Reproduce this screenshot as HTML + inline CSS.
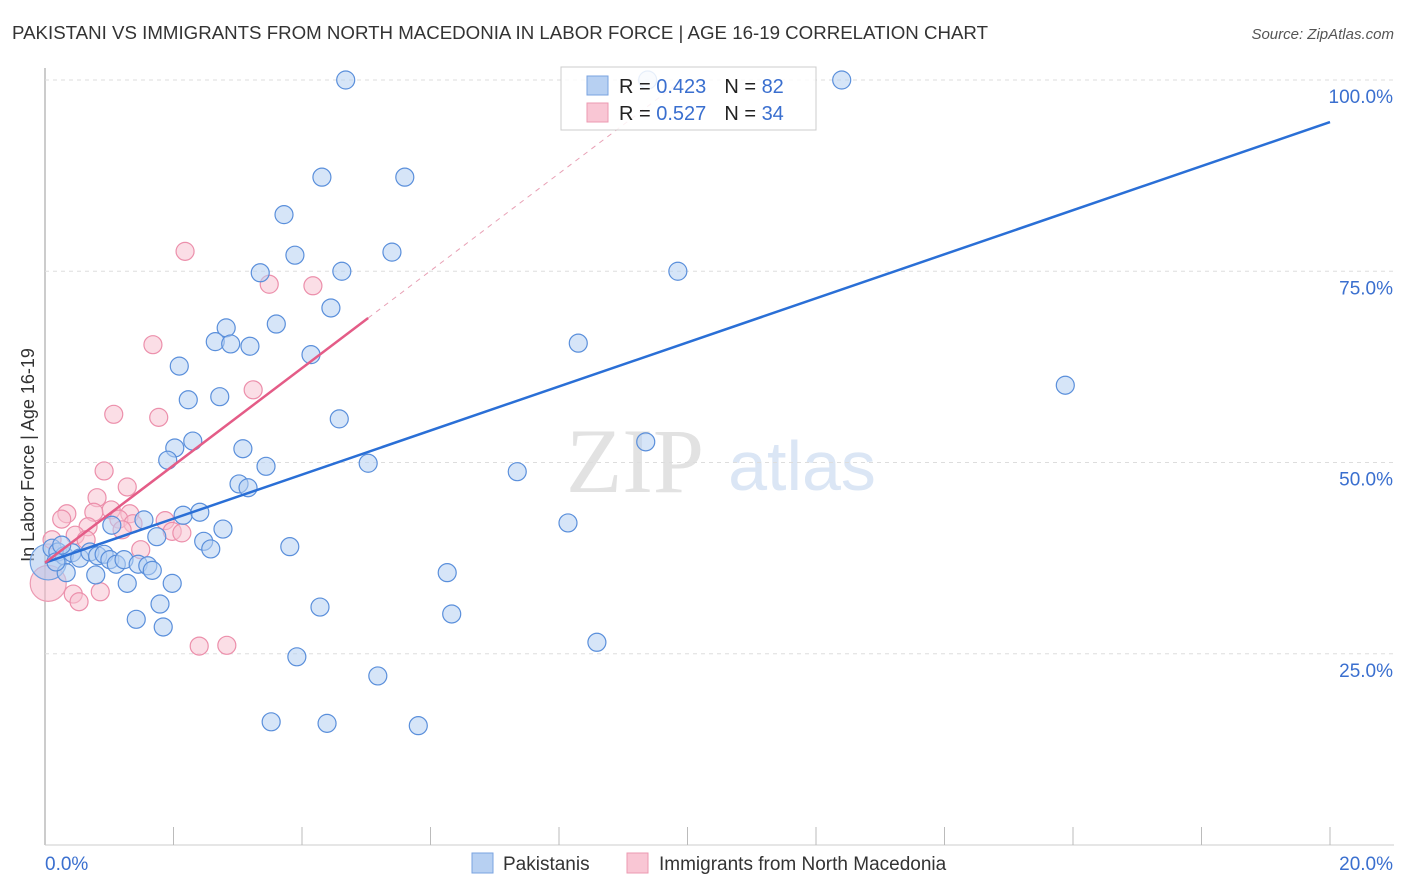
<!DOCTYPE html>
<html><head><meta charset="utf-8"><style>
body{margin:0;background:#fff;font-family:"Liberation Sans",sans-serif;}
svg{display:block}
</style></head><body>
<svg id="chart" width="1406" height="892">
<text x="12" y="39" font-size="18" fill="#333" textLength="976" lengthAdjust="spacingAndGlyphs">PAKISTANI VS IMMIGRANTS FROM NORTH MACEDONIA IN LABOR FORCE | AGE 16-19 CORRELATION CHART</text>
<text x="1394" y="39" font-size="15" fill="#555" font-style="italic" text-anchor="end">Source: ZipAtlas.com</text>
<text x="635" y="492" font-size="92" fill="#e2e2e2" font-family="Liberation Serif,serif" text-anchor="middle">ZIP</text>
<text x="802" y="490" font-size="70" fill="#dbe6f5" text-anchor="middle">atlas</text>
<text transform="translate(34,455) rotate(-90)" font-size="18" fill="#333" text-anchor="middle">In Labor Force | Age 16-19</text>
<g id="grid"></g><g id="pts"></g><g id="lines"></g>
<g>
<rect x="561" y="67" width="255" height="63" fill="#fff" fill-opacity="0.85" stroke="#ccc"/>
<rect x="587" y="76" width="21" height="19" fill="#b7d0f2" stroke="#7aa3e0"/>
<rect x="587" y="103" width="21" height="19" fill="#f9c6d4" stroke="#ec9ab2"/>
<text x="619" y="93" font-size="20" fill="#222">R = <tspan fill="#3a6fcf">0.423</tspan><tspan dx="18">N = </tspan><tspan fill="#3a6fcf">82</tspan></text>
<text x="619" y="120" font-size="20" fill="#222">R = <tspan fill="#3a6fcf">0.527</tspan><tspan dx="18">N = </tspan><tspan fill="#3a6fcf">34</tspan></text>
</g>
<g>
<rect x="472" y="853" width="21" height="20" fill="#b7d0f2" stroke="#7aa3e0"/>
<text x="503" y="870" font-size="19" fill="#333">Pakistanis</text>
<rect x="627" y="853" width="21" height="20" fill="#f9c6d4" stroke="#ec9ab2"/>
<text x="659" y="870" font-size="19" fill="#333">Immigrants from North Macedonia</text>
</g>
</svg>
<script>
const blueX=[4.68,12.40,9.38,4.31,5.60,3.72,3.89,5.40,3.35,4.62,9.85,4.45,3.60,2.82,2.65,2.89,3.19,8.30,4.14,2.09,15.88,2.23,2.72,4.58,9.35,2.02,2.30,3.08,1.91,5.03,3.44,7.35,3.02,3.16,2.15,2.41,1.54,1.04,8.14,2.77,1.74,2.47,2.58,3.81,0.11,0.20,0.30,0.42,0.54,0.70,0.82,0.92,1.01,1.11,1.23,1.45,1.60,1.67,0.33,0.79,0.17,0.26,1.28,1.98,1.79,1.42,1.84,4.28,6.26,6.33,8.59,3.92,5.18,3.52,4.39,5.81];
const blueY=[100,100,100,87.3,87.3,82.4,77.1,77.5,74.8,75.0,75.0,70.2,68.1,67.6,65.8,65.5,65.2,65.6,64.1,62.6,60.1,58.2,58.6,55.7,52.7,51.9,52.8,51.8,50.3,49.9,49.5,48.8,47.2,46.7,43.1,43.5,42.5,41.8,42.1,41.3,40.3,39.7,38.7,39.0,38.8,38.3,37.8,38.2,37.5,38.3,37.8,38.0,37.3,36.7,37.3,36.7,36.5,35.9,35.6,35.3,37.0,39.2,34.2,34.2,31.5,29.5,28.5,31.1,35.6,30.2,26.5,24.6,22.1,16.1,15.9,15.6];
const pinkX=[2.18,3.49,4.17,1.68,3.24,1.07,1.77,0.92,1.28,0.81,0.34,0.26,1.03,0.76,1.32,1.15,0.67,1.87,1.37,1.98,2.13,1.20,0.47,0.64,0.11,1.49,0.44,0.53,0.86,2.40,2.83];
const pinkY=[77.6,73.3,73.1,65.4,59.5,56.3,55.9,48.9,46.8,45.4,43.3,42.6,43.8,43.5,43.3,42.6,41.6,42.4,42.0,41.0,40.8,41.2,40.5,39.9,39.9,38.6,32.8,31.8,33.1,26.0,26.1];
const bigBlue=[0.05,37.0], bigPink=[0.05,34.2];
const blueFit=[36.9,94.5], pinkFit=[36.9,6.36], pinkSolidEnd=5.03;
const yTicks=[25,50,75,100];
const NS="http://www.w3.org/2000/svg";
const sx=v=>45+v/20*1285, sy=v=>845-v/100*765;
function mk(t,a,p){const e=document.createElementNS(NS,t);for(const k in a)e.setAttribute(k,a[k]);p.appendChild(e);return e;}
const grid=document.getElementById('grid');
const ax=mk('line',{x1:45,y1:68,x2:45,y2:845,stroke:'#999'},grid);

const xa=mk('line',{x1:45,y1:845,x2:1394,y2:845,stroke:'#ccc'},grid);

for(let i=1;i<=10;i++){const t=mk('line',{x1:sx(i*2),y1:827,x2:sx(i*2),y2:845,stroke:'#bbb'},grid);
}
yTicks.forEach(v=>{const g=mk('line',{x1:45,y1:sy(v),x2:1394,y2:sy(v),stroke:'#ddd','stroke-dasharray':'4,4'},grid);

const t=mk('text',{x:1393,y:sy(v)+23,'font-size':19,fill:'#3a6fcf','text-anchor':'end'},grid);t.textContent=v.toFixed(1)+'%';
});
const l0=mk('text',{x:45,y:870,'font-size':19,fill:'#3a6fcf'},grid);l0.textContent='0.0%';

const l1=mk('text',{x:1393,y:870,'font-size':19,fill:'#3a6fcf','text-anchor':'end'},grid);l1.textContent='20.0%';

const pts=document.getElementById('pts');
function dot(x,y,r,f,s,name){const c=mk('circle',{cx:sx(x),cy:sy(y),r:r,fill:f,'fill-opacity':0.55,stroke:s,'stroke-width':1.2},pts);
}
dot(bigPink[0],bigPink[1],18,'#f7b8cb','#ec9ab2','pink-point');
dot(bigBlue[0],bigBlue[1],18,'#aac6ee','#6f9ee0','blue-point');
pinkX.forEach((x,i)=>dot(x,pinkY[i],9,'#f7c3d2','#ec8fab','pink-point'));
blueX.forEach((x,i)=>dot(x,blueY[i],9,'#b5cff2','#5a8fdb','blue-point'));
const lines=document.getElementById('lines');
const bl=mk('line',{x1:sx(0),y1:sy(blueFit[0]),x2:sx(20),y2:sy(blueFit[1]),stroke:'#2a6fd6','stroke-width':2.5},lines);

const pl=mk('line',{x1:sx(0),y1:sy(pinkFit[0]),x2:sx(pinkSolidEnd),y2:sy(pinkFit[0]+pinkFit[1]*pinkSolidEnd),stroke:'#e45c87','stroke-width':2.5},lines);

const xe=(100-pinkFit[0])/pinkFit[1];
const pd=mk('line',{x1:sx(pinkSolidEnd),y1:sy(pinkFit[0]+pinkFit[1]*pinkSolidEnd),x2:sx(xe),y2:sy(100),stroke:'#e8a0b5','stroke-width':1,'stroke-dasharray':'5,5'},lines);

</script>
</body></html>
